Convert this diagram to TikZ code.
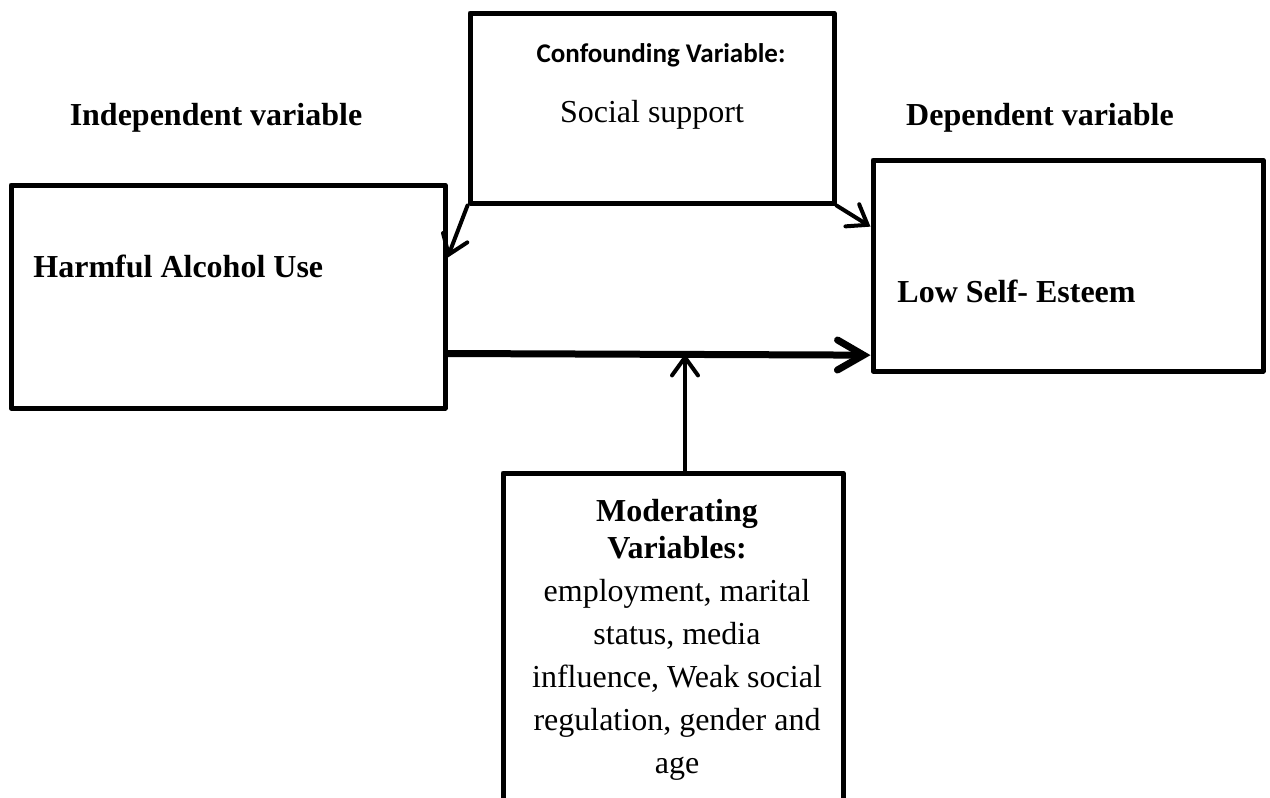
\documentclass[tikz,border=0pt]{standalone}
\usepackage{fontspec}
\setmainfont{Liberation Serif}
\newfontfamily\calibri{Carlito}
\usetikzlibrary{arrows.meta,calc}
\begin{document}
\begin{tikzpicture}[x=0.5pt,y=-0.5pt,
  varbox/.style={draw,line width=2.5pt,line join=round,inner sep=0pt,rectangle},
  txt/.style={inner sep=0pt,font=\fontsize{16}{21.5}\selectfont},
  thin arrow/.style={line width=2pt,line cap=round,-{Straight Barb[length=9pt,width=13pt,line cap=round]}},
  thick arrow/.style={line width=3.5pt,line cap=round,-{Straight Barb[length=13pt,width=15pt,line cap=round]}}]
\clip (0,0) rectangle (1270,798);
\fill[white] (0,0) rectangle (1270,798);
% boxes
\node[varbox,minimum width=182pt,minimum height=95pt] (conf) at (652,108) {};
\node[varbox,minimum width=217pt,minimum height=111.5pt] (harm) at (228,296.5) {};
\node[varbox,minimum width=195pt,minimum height=105.5pt] (low) at (1068,265.5) {};
\node[varbox,minimum width=170pt,minimum height=178.5pt] (mod) at (673,651.5) {};
% texts
\node[txt,anchor=base,font=\fontsize{16}{20}\selectfont\bfseries] (indep) at (216,125) {Independent variable};
\node[txt,anchor=base,font=\fontsize{16}{20}\selectfont\bfseries] (dep) at (1040,125) {Dependent variable};
\node[txt,anchor=base,font=\fontsize{13.5}{16}\selectfont\calibri\bfseries] (conft) at (661,62) {Confounding Variable:};
\node[txt,anchor=base] (soc) at (652,122) {Social support};
\node[txt,anchor=base west,font=\fontsize{16}{20}\selectfont\bfseries] (harmt) at (33,277) {Harmful Alcohol Use};
\node[txt,anchor=base west,font=\fontsize{16}{20}\selectfont\bfseries] (lowt) at (897,302) {Low Self- Esteem};
\node[txt,anchor=north,align=center] (modt) at (677,499) {\textbf{Moderating}\\[-3pt]\textbf{Variables:}\\employment, marital\\status, media\\influence, Weak social\\regulation, gender and\\age};
% connectors
\coordinate (j) at (685,354);
\draw[thin arrow] (conf.south west) -- ($(harm.north east)!0.33!(harm.south east)$);
\draw[thin arrow] (conf.south east) -- ($(low.north west)!0.32!(low.south west)$);
\draw[thick arrow] ($(harm.north east)!0.75!(harm.south east)$) -- ($(low.north west)!0.915!(low.south west)$);
\draw[thin arrow] (mod.north -| j) -- (j);
\end{tikzpicture}
\end{document}
